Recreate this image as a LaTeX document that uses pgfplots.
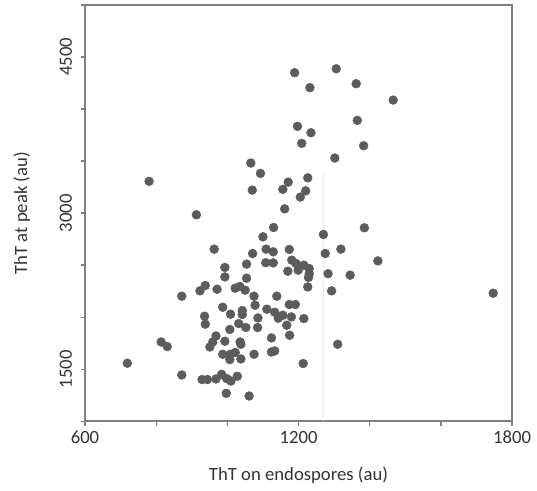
\documentclass[border=0pt]{standalone}
\usepackage{pgfplots}
\pgfplotsset{compat=1.18}
\usepackage{fontspec}
\setmainfont{Carlito}
\definecolor{dotgray}{RGB}{92,92,92}
\definecolor{axgray}{RGB}{128,128,128}
\begin{document}
\begin{tikzpicture}
\begin{axis}[
  name=ax,
  scale only axis,
  width=320pt, height=312pt,
  xmin=600, xmax=1800, ymin=1000, ymax=5000,
  xtick={600,800,1000,1200,1400,1600,1800},
  xticklabels={600,,,1200,,,1800},
  ytick={1000,1500,2000,2500,3000,3500,4000,4500,5000},
  yticklabels={,1500,,,3000,,,4500,},
  tick align=outside,
  tick pos=left,
  major tick length=3.2pt,
  every tick/.style={axgray, line width=1pt},
  axis line style={axgray, line width=1.2pt},
  tick label style={font=\fontsize{14}{16}\selectfont, text=black!80},
  yticklabel style={rotate=90, anchor=south},
  yticklabel shift=3pt,
  xticklabel shift=0.5pt,
  /pgf/number format/assume math mode=true,
  xlabel={ThT on endospores (au)},
  ylabel={ThT at peak (au)},
  label style={font=\fontsize{14}{16}\selectfont, text=black!80},
  xlabel style={at={([yshift=-44pt]axis description cs:0.5,0)}, anchor=base},
  ylabel style={at={([xshift=-43.4pt]axis description cs:0,0.5)}, anchor=base, rotate=0},
]
\draw[black!8, line width=0.6pt] (axis cs:1269,1000) -- (axis cs:1269,3380);
\addplot[only marks, mark=*, mark size=3.3pt, mark options={fill=dotgray, draw=dotgray}] table {
x y
1189 4349
1306 4387
1232 4205
1362 4243
1466 4086
1365 3891
1197 3834
1235 3772
1209 3670
1383 3647
1302 3529
1226 3339
1171 3298
1156 3228
1220 3214
1205 3154
1161 3041
1130 2862
1270 2795
1385 2859
1319 2654
780 3305
1066 3481
1093 3382
1070 3221
913 2984
1100 2772
963 2654
1071 2612
1109 2654
1129 2628
1174 2651
1275 2612
1108 2524
1129 2522
993 2478
1054 2510
993 2387
1054 2375
1181 2548
1193 2516
1215 2500
1230 2468
1199 2452
1170 2442
1230 2418
1283 2418
1423 2541
1345 2404
1228 2382
1226 2291
1293 2253
872 2202
923 2253
938 2305
971 2269
1022 2279
1035 2295
1050 2260
1075 2202
1139 2202
1078 2115
987 2096
1009 2029
1042 2064
1042 2026
1086 1993
1111 2077
1174 2122
1191 2122
936 2010
938 1933
1032 1939
1052 1901
1085 1901
1007 1882
968 1820
959 1762
951 1714
993 1769
1036 1762
1038 1740
814 1762
831 1718
987 1644
1008 1644
1022 1661
1007 1593
1038 1599
1075 1644
1124 1666
1133 1676
719 1558
872 1445
929 1401
944 1401
968 1407
984 1452
998 1411
1010 1387
1028 1433
997 1269
1061 1243
1133 2048
1143 1990
1156 2019
1167 1923
1180 2003
1215 1987
1124 1801
1175 1827
1310 1740
1213 1555
1747 2231
};
\end{axis}
\path ([xshift=-63.7pt,yshift=-51.7pt]ax.south west);
\path ([xshift=18.7pt,yshift=3.7pt]ax.north east);
\end{tikzpicture}
\end{document}
